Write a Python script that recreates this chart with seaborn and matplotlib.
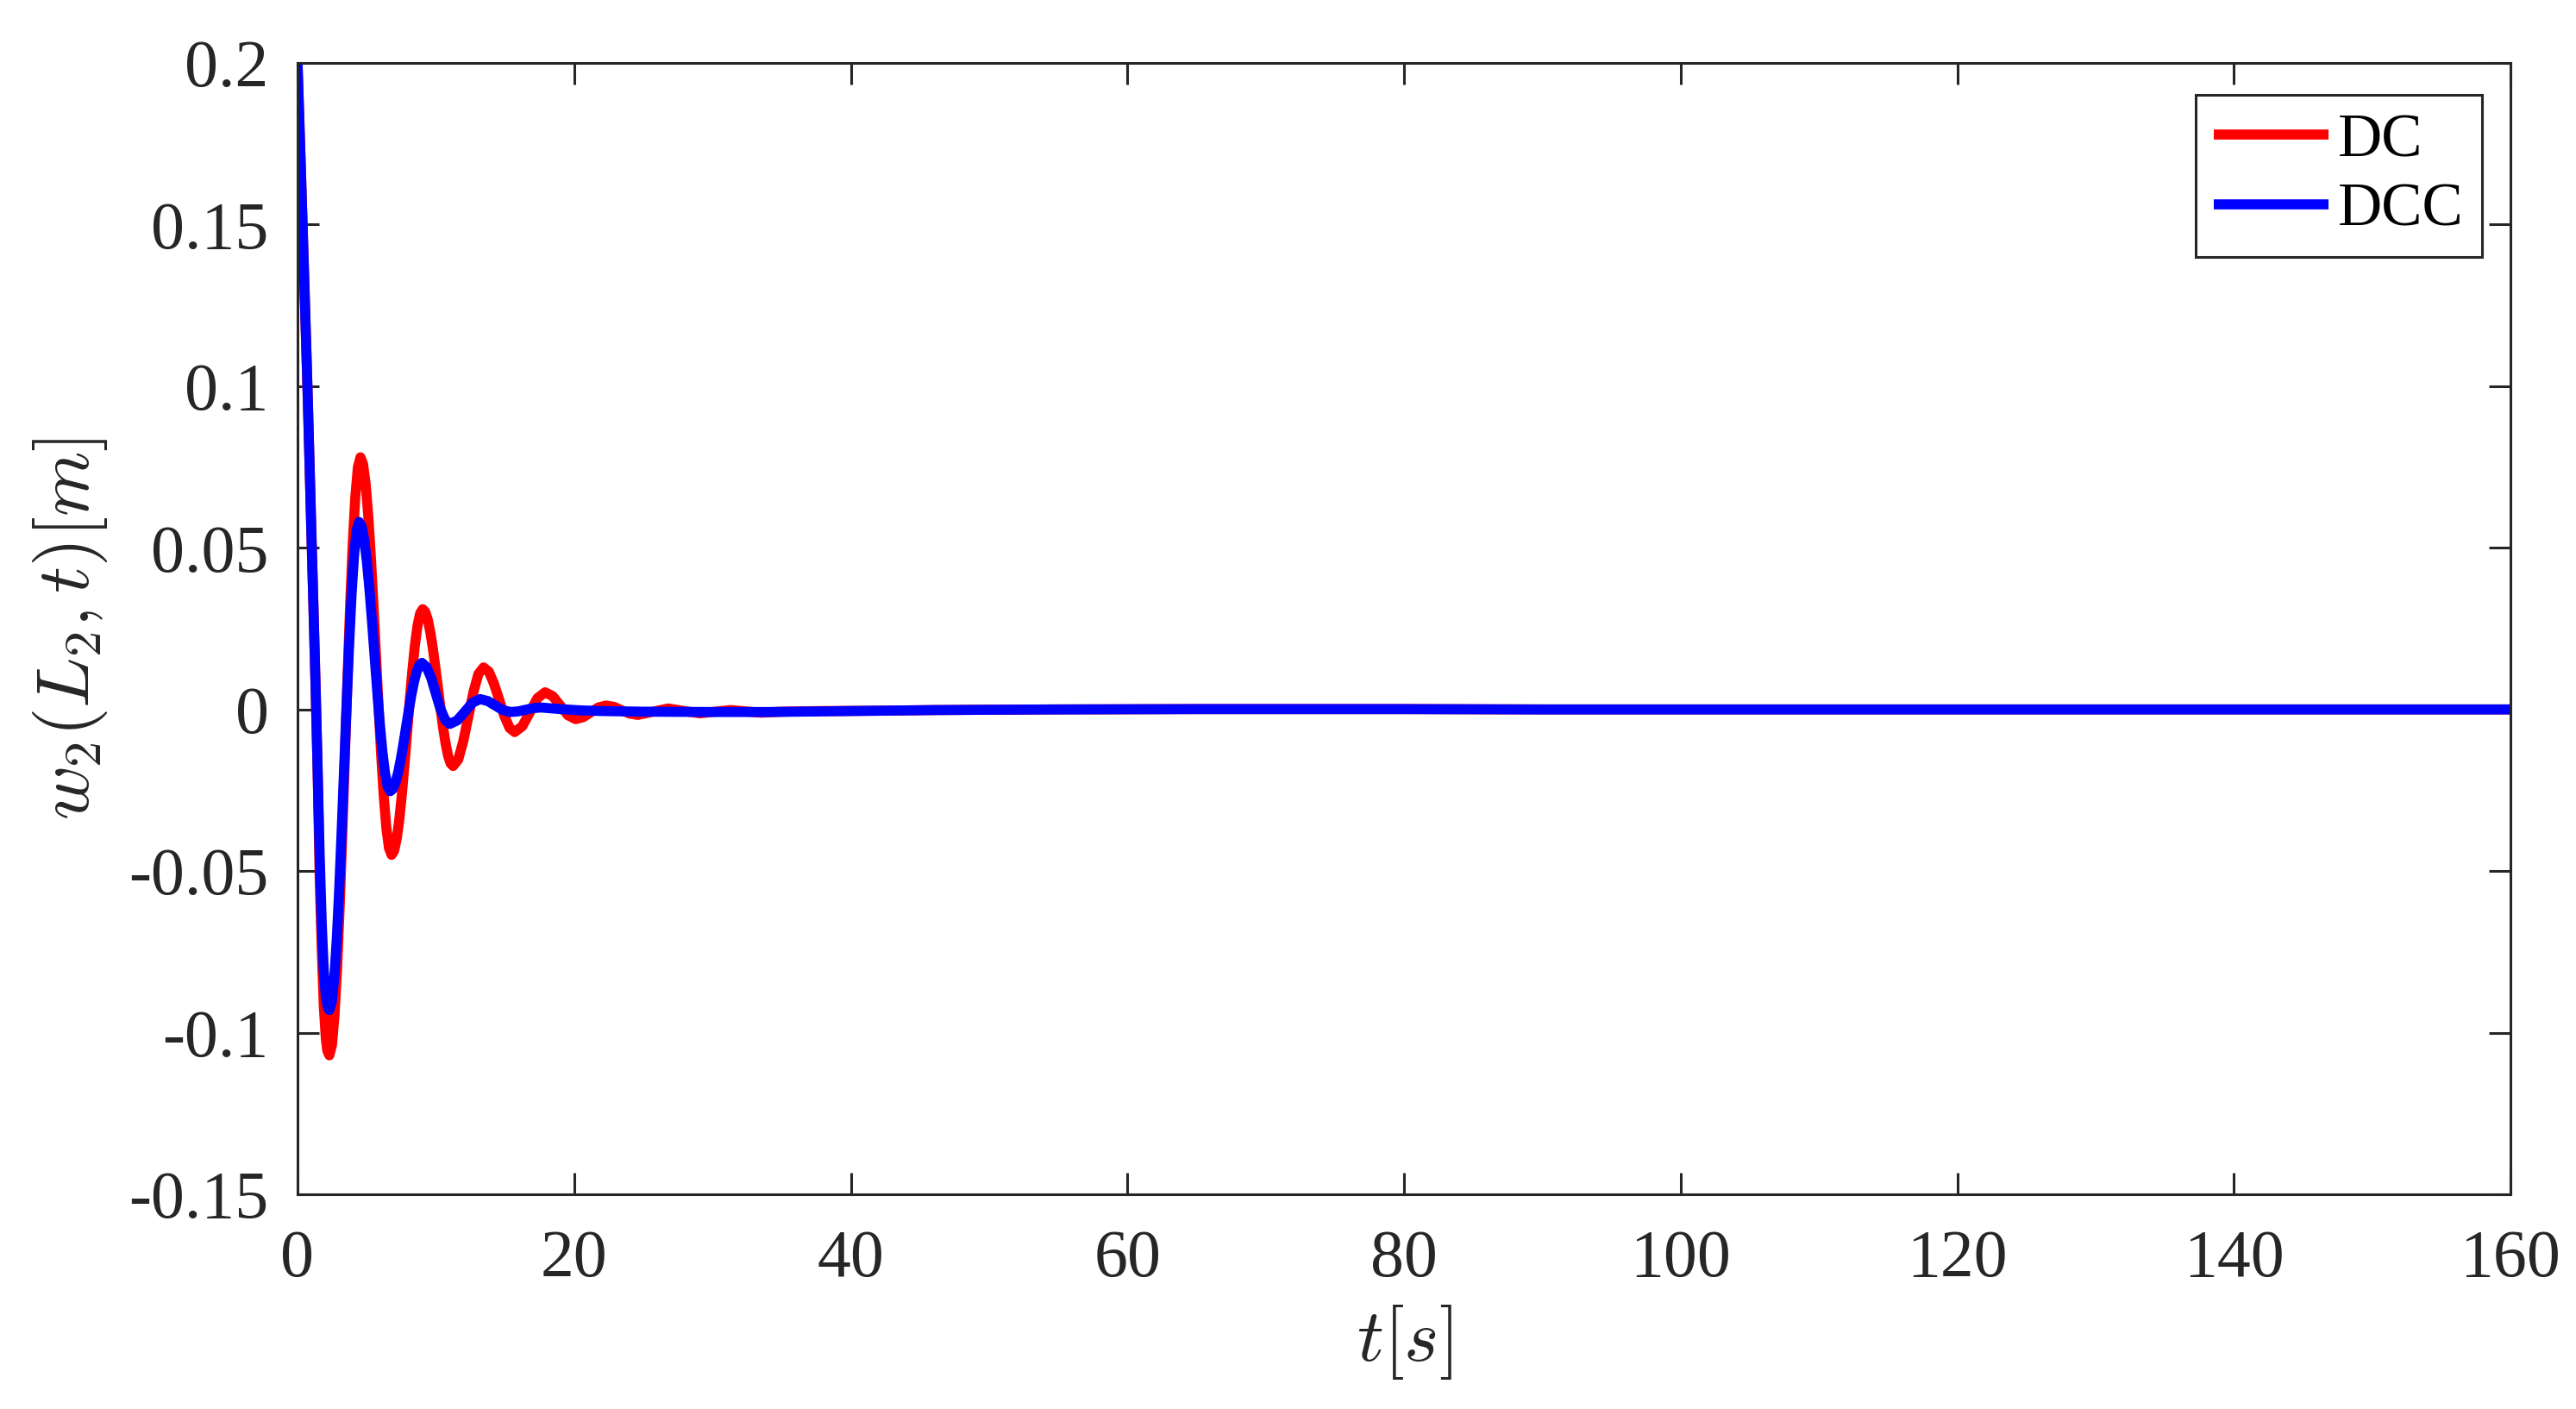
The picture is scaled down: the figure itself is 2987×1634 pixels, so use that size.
import numpy as np
import pandas as pd
import matplotlib
matplotlib.use("Agg")
import matplotlib.pyplot as plt
import seaborn as sns

# DC response (red)
t_dc = [0, 0.25, 0.5, 0.75, 1.0, 1.15, 1.3, 1.45, 1.6, 1.75, 1.9, 2.05, 2.15, 2.3,
        2.4875, 2.675, 2.8625, 3.05, 3.2375, 3.425, 3.6125, 3.8, 3.9875, 4.175, 4.3625, 4.55,
        4.7375, 4.925, 5.1125, 5.3, 5.4875, 5.675, 5.8625, 6.05, 6.2375, 6.425, 6.6125, 6.8,
        6.9875, 7.175, 7.3625, 7.55, 7.7375, 7.925, 8.1125, 8.3, 8.4875, 8.675, 8.8625, 9.05,
        9.233, 9.417, 9.6, 9.783, 9.967, 10.15, 10.333, 10.517, 10.7, 10.883, 11.067, 11.25,
        11.62, 11.98, 12.35, 12.72, 13.08, 13.45,
        13.83, 14.2, 14.58, 14.95, 15.33, 15.7,
        16.25, 16.8, 17.35, 17.9,
        18.45, 19.0, 19.55, 20.1,
        20.65, 21.2, 21.75, 22.3,
        22.88, 23.45, 24.03, 24.6,
        25.7, 26.8, 27.95, 29.1, 30.2, 31.3, 32.4, 33.5,
        35, 38, 42, 46, 50, 55, 65, 80, 90, 100, 130, 160]
w_dc = [0.2, 0.166, 0.131, 0.095, 0.055, 0.032, 0.008, -0.018, -0.052, -0.074, -0.092, -0.102, -0.1055, -0.107,
        -0.1039, -0.0946, -0.0800, -0.0608, -0.0384, -0.0145, 0.0094, 0.0318, 0.0510, 0.0656, 0.0749, 0.078,
        0.0759, 0.0698, 0.0600, 0.0473, 0.0324, 0.0165, 0.0006, -0.0143, -0.0270, -0.0368, -0.0429, -0.045,
        -0.0437, -0.0399, -0.0339, -0.026, -0.0168, -0.007, 0.0028, 0.012, 0.0199, 0.0259, 0.0297, 0.031,
        0.0302, 0.0278, 0.0239, 0.0189, 0.013, 0.0068, 0.0005, -0.0054, -0.0104, -0.0143, -0.0167, -0.0175,
        -0.0155, -0.0099, -0.0023, 0.0054, 0.011, 0.013,
        0.0117, 0.008, 0.003, -0.002, -0.0057, -0.007,
        -0.0052, -0.0009, 0.0035, 0.0053,
        0.0041, 0.0012, -0.0018, -0.003,
        -0.0024, -0.0009, 0.0006, 0.0012,
        0.0008, -0.0003, -0.0013, -0.0017,
        -0.0007, 0.0003, -0.0005, -0.0012, -0.0007, -0.0002, -0.0006, -0.0010,
        -0.0007, -0.0005, -0.0004, -0.0002, -0.0001, 0.0, 0.0001, 0.0001, 0.0, 0.0, 0.0, 0.0]

# DCC response (blue)
t_dcc = [0, 0.25, 0.5, 0.75, 1.0, 1.15, 1.3, 1.45, 1.6, 1.75, 1.9, 2.05, 2.2, 2.3,
         2.479, 2.658, 2.838, 3.017, 3.196, 3.375, 3.554, 3.733, 3.913, 4.092, 4.271, 4.45,
         4.6375, 4.825, 5.0125, 5.2, 5.3875, 5.575, 5.7625, 5.95, 6.1375, 6.325, 6.5125, 6.7,
         6.892, 7.083, 7.275, 7.467, 7.658, 7.85, 8.042, 8.233, 8.425, 8.617, 8.808, 9.0,
         9.33, 9.67, 10.0, 10.33, 10.67, 11.0,
         11.55, 12.1, 12.65, 13.2,
         13.75, 14.3, 14.85, 15.4,
         15.95, 16.5, 17.05, 17.6,
         19, 20.5, 22, 25, 30, 34, 38, 42, 46, 50, 55, 65, 80, 90, 100, 130, 160]
w_dcc = [0.2, 0.166, 0.131, 0.095, 0.055, 0.032, 0.008, -0.018, -0.045, -0.066, -0.081, -0.089, -0.0925, -0.093,
         -0.0904, -0.0829, -0.0710, -0.0553, -0.0370, -0.0175, 0.0020, 0.0203, 0.0360, 0.0479, 0.0554, 0.058,
         0.0566, 0.0524, 0.0458, 0.0372, 0.0271, 0.0163, 0.0056, -0.0045, -0.0131, -0.0197, -0.0239, -0.0253,
         -0.0246, -0.0226, -0.0195, -0.0154, -0.0106, -0.0054, -0.0003, 0.0045, 0.0086, 0.0117, 0.0137, 0.0144,
         0.0131, 0.0097, 0.0049, 0.0002, -0.0032, -0.0045,
         -0.0034, -0.0007, 0.0021, 0.0032,
         0.0026, 0.0012, -0.0002, -0.0008,
         -0.0006, -0.0001, 0.0004, 0.0006,
         0.0001, -0.0003, -0.0005, -0.0007, -0.0008, -0.0008, -0.0006, -0.0004, -0.0002, -0.0001, 0.0, 0.0001, 0.0001, 0.0, 0.0, 0.0, 0.0]

x_ticks = [0, 20, 40, 60, 80, 100, 120, 140, 160]
y_ticks = [-0.15, -0.1, -0.05, 0, 0.05, 0.1, 0.15, 0.2]
y_ticklabels = ["-0.15", "-0.1", "-0.05", "0", "0.05", "0.1", "0.15", "0.2"]

df = pd.concat([
    pd.DataFrame({"t": t_dc, "w": w_dc, "method": "DC"}),
    pd.DataFrame({"t": t_dcc, "w": w_dcc, "method": "DCC"}),
], ignore_index=True)

sns.set_theme(style="white")
plt.rcParams["font.family"] = ["Liberation Serif", "DejaVu Serif"]
plt.rcParams["mathtext.fontset"] = "cm"

axcol = "#262626"
fig = plt.figure(figsize=(2987 / 200, 1634 / 200), dpi=200)
ax = fig.add_axes([345 / 2987, 1 - 1385 / 1634, 2566 / 2987, 1312 / 1634])

sns.lineplot(data=df, x="t", y="w", hue="method", palette={"DC": "#ff0000", "DCC": "#0000ff"},
             estimator=None, sort=False, linewidth=4.2, ax=ax, legend=False)
for ln in ax.get_lines():
    ln.set_solid_joinstyle("round")
    ln.set_solid_capstyle("round")

ax.set_xlim(0, 160)
ax.set_ylim(-0.15, 0.2)
ax.set_xticks(x_ticks)
ax.set_xticklabels([str(v) for v in x_ticks])
ax.set_yticks(y_ticks)
ax.set_yticklabels(y_ticklabels)

for s in ax.spines.values():
    s.set_visible(True)
    s.set_color(axcol)
    s.set_linewidth(1.1)
ax.tick_params(direction="in", length=9, width=1.1, color=axcol, labelcolor=axcol,
               labelsize=28, top=True, right=True, bottom=True, left=True)
ax.tick_params(axis="x", pad=14.5)
ax.tick_params(axis="y", pad=12)

ax.set_xlabel(r"$t[s]$", fontsize=31, color=axcol, labelpad=5)
ax.set_ylabel(r"$w_2(L_2,t)[m]$", fontsize=31, color=axcol, labelpad=8)

handles = [plt.Line2D([], [], color="#ff0000", lw=4.2, solid_capstyle="butt"),
           plt.Line2D([], [], color="#0000ff", lw=4.2, solid_capstyle="butt")]
leg = ax.legend(handles, ["DC", "DCC"], loc="upper right", bbox_to_anchor=(0.9871, 0.9718),
                borderaxespad=0, fontsize=25.5, frameon=True, fancybox=False, framealpha=1,
                handlelength=1.88, handletextpad=0.15, borderpad=0.3, labelspacing=0.22)
leg.get_frame().set_edgecolor(axcol)
leg.get_frame().set_linewidth(1.1)
for txt in leg.get_texts():
    txt.set_color("black")

fig.savefig("out.png", dpi=200)
